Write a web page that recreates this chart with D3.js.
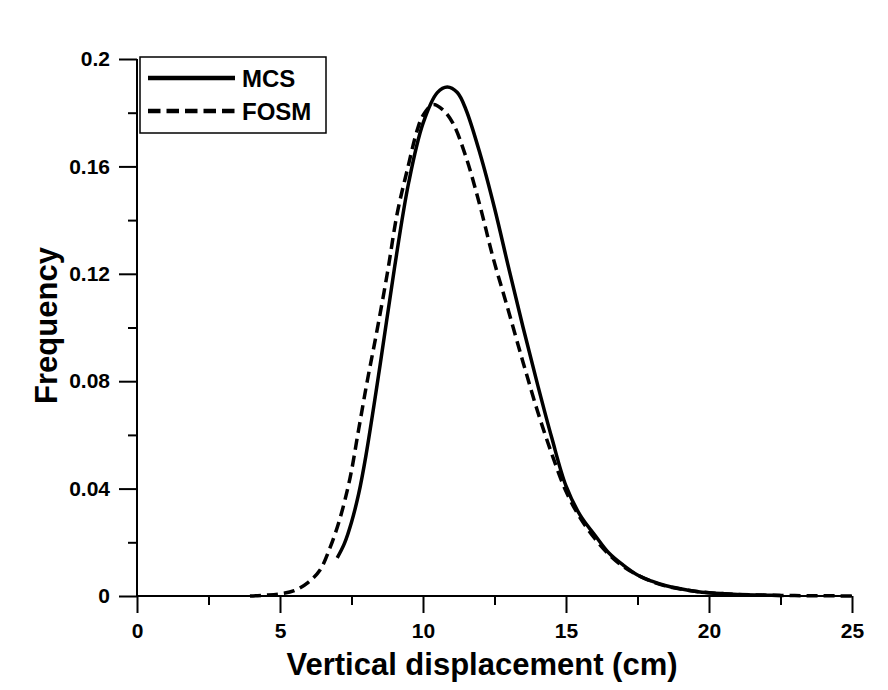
<!DOCTYPE html>
<html>
<head>
<meta charset="utf-8">
<script src="https://cdn.jsdelivr.net/npm/d3@7/dist/d3.min.js"></script>
<style>
  html, body { margin: 0; padding: 0; background: #fff; }
  svg { display: block; font-family: "Liberation Sans", Arial, sans-serif; }
</style>
</head>
<body>
<svg id="chart" width="888" height="690"></svg>
<script>
// ---- data ----
const mcsX = [7.0, 7.25, 7.5, 7.75, 8.0, 8.5, 9.0, 9.5, 10.0, 10.5, 10.85, 11.2, 11.5, 12.0, 12.5, 13.0, 13.5, 14.0, 14.5, 15.0, 15.5, 16.0, 16.5, 17.0, 17.5, 18.0, 18.5, 19.0, 19.5, 20.0, 21.0, 22.0, 22.5];
const mcsY = [0.0142, 0.0195, 0.0275, 0.038, 0.052, 0.086, 0.122, 0.154, 0.176, 0.1875, 0.1896, 0.1875, 0.1812, 0.1645, 0.1445, 0.122, 0.100, 0.079, 0.059, 0.041, 0.030, 0.0228, 0.016, 0.0115, 0.0078, 0.0055, 0.0038, 0.0027, 0.0018, 0.0012, 0.0006, 0.0003, 0.0002];

const fosmX = [3.95, 4.5, 5.0, 5.5, 6.0, 6.4, 6.75, 7.1, 7.45, 7.75, 8.05, 8.35, 8.75, 9.1, 9.45, 9.8, 10.0, 10.35, 10.7, 11.05, 11.5, 12.0, 12.45, 12.95, 13.5, 14.0, 14.5, 15.0, 15.5, 16.0, 16.5, 17.0, 17.5, 18.0, 18.5, 19.0, 19.5, 20.0, 21.0, 22.0, 23.0, 24.0, 25.0];
const fosmY = [0.0, 0.0003, 0.0008, 0.002, 0.0052, 0.0097, 0.018, 0.029, 0.044, 0.062, 0.080, 0.0965, 0.120, 0.1426, 0.1587, 0.1736, 0.179, 0.183, 0.181, 0.176, 0.1636, 0.145, 0.126, 0.1076, 0.087, 0.069, 0.053, 0.039, 0.029, 0.0215, 0.0155, 0.011, 0.0078, 0.0054, 0.0037, 0.0026, 0.0018, 0.0012, 0.0006, 0.0003, 0.00015, 0.00007, 0.00003];

const xMajorTicks = [0, 5, 10, 15, 20, 25];
const xMinorTicks = [2.5, 7.5, 12.5, 17.5, 22.5];
const yMajorTicks = [0, 0.04, 0.08, 0.12, 0.16, 0.2];
const yTickLabels = ["0", "0.04", "0.08", "0.12", "0.16", "0.2"];
const yMinorTicks = [0.02, 0.06, 0.10, 0.14, 0.18];

const seriesNames = ["MCS", "FOSM"];
const xTitle = "Vertical displacement (cm)";
const yTitle = "Frequency";

// ---- layout ----
const W = 888, H = 690;
const margin = { left: 137, right: 36, top: 59, bottom: 94 };
const svg = d3.select("#chart");
const x = d3.scaleLinear().domain([0, 25]).range([margin.left, W - margin.right]);
const y = d3.scaleLinear().domain([0, 0.2]).range([H - margin.bottom, margin.top]);

const tickFont = "bold 21px 'Liberation Sans', Arial, sans-serif";
const titleFont = "bold 31px 'Liberation Sans', Arial, sans-serif";

// x axis
const gxMinor = svg.append("g").attr("transform", `translate(0,${y(0)})`)
  .call(d3.axisBottom(x).tickValues(xMinorTicks).tickSize(9).tickFormat(""));
const gx = svg.append("g").attr("transform", `translate(0,${y(0)})`)
  .call(d3.axisBottom(x).tickValues(xMajorTicks).tickSize(17).tickPadding(10).tickFormat(d3.format("d")));

// y axis
const gyMinor = svg.append("g").attr("transform", `translate(${x(0)},0)`)
  .call(d3.axisLeft(y).tickValues(yMinorTicks).tickSize(9).tickFormat(""));
const gy = svg.append("g").attr("transform", `translate(${x(0)},0)`)
  .call(d3.axisLeft(y).tickValues(yMajorTicks).tickSize(18).tickPadding(9)
    .tickFormat((d, i) => yTickLabels[i]));

[gxMinor, gx, gyMinor, gy].forEach(g => {
  g.selectAll("path.domain").attr("stroke", "#000").attr("stroke-width", 2);
  g.selectAll(".tick line").attr("stroke", "#000").attr("stroke-width", 2);
  g.selectAll(".tick text").style("font", tickFont).attr("fill", "#000");
});
gyMinor.select("path.domain").remove();
gxMinor.select("path.domain").remove();
gy.select("path.domain").attr("d", `M0,${y(0.2)}V${y(0)}`);
gx.select("path.domain").attr("d", `M${x(0)},0H${x(25)}`);

// titles
svg.append("text")
  .attr("x", 482).attr("y", 675)
  .attr("text-anchor", "middle")
  .style("font", titleFont)
  .text(xTitle);
svg.append("text")
  .attr("transform", `translate(57,${(y(0) + y(0.2)) / 2 - 2}) rotate(-90)`)
  .attr("text-anchor", "middle")
  .style("font", titleFont)
  .text(yTitle);

// curves
const line = d3.line().x(d => x(d[0])).y(d => y(d[1])).curve(d3.curveCatmullRom.alpha(0.5));
const mcs = mcsX.map((v, i) => [v, mcsY[i]]);
const fosm = fosmX.map((v, i) => [v, fosmY[i]]);

svg.append("path").datum(fosm)
  .attr("d", line).attr("fill", "none").attr("stroke", "#000")
  .attr("stroke-width", 3.5).attr("stroke-dasharray", "11,6");
svg.append("path").datum(mcs)
  .attr("d", line).attr("fill", "none").attr("stroke", "#000")
  .attr("stroke-width", 3.5);

// legend
const lg = svg.append("g");
lg.append("rect").attr("x", 140).attr("y", 57).attr("width", 186).attr("height", 76)
  .attr("fill", "#fff").attr("stroke", "#000").attr("stroke-width", 1.5);
const legendRows = [{ name: seriesNames[0], dash: null, yy: 78 }, { name: seriesNames[1], dash: "12.5,6", yy: 111 }];
legendRows.forEach(r => {
  lg.append("line").attr("x1", 148).attr("x2", 235).attr("y1", r.yy).attr("y2", r.yy)
    .attr("stroke", "#000").attr("stroke-width", 4.5)
    .attr("stroke-dasharray", r.dash);
  lg.append("text").attr("x", 242).attr("y", r.yy + 8.5)
    .style("font", "bold 24px 'Liberation Sans', Arial, sans-serif")
    .text(r.name);
});
</script>
</body>
</html>
